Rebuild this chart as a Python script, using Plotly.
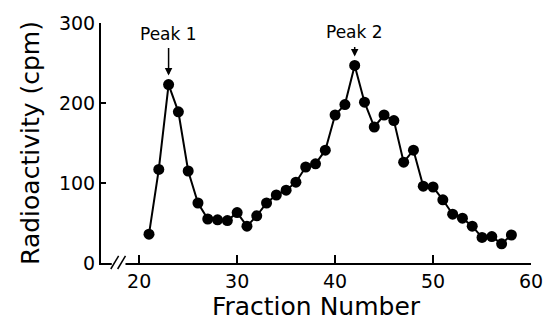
import plotly.graph_objects as go

fractions = list(range(21, 59))
cpm = [36, 117, 223, 189, 115, 75, 55, 54, 53, 63, 46, 59, 75, 85, 91, 101, 120, 124,
       141, 185, 198, 247, 201, 170, 185, 178, 126, 141, 96, 95, 79, 61, 56, 46, 32, 33, 24, 35]
x_ticks = [20, 30, 40, 50, 60]
y_ticks = [0, 100, 200, 300]
peaks = [(23, 223, "Peak 1", 28), (42, 247, "Peak 2", 10)]

FONT = "DejaVu Sans"
fig = go.Figure()
fig.add_trace(go.Scatter(
    x=fractions, y=cpm, mode="lines+markers",
    line=dict(color="black", width=2),
    marker=dict(color="black", size=11),
    cliponaxis=False, showlegend=False))

for px, py, label, alen in peaks:
    fig.add_annotation(x=px, y=py, text="", showarrow=True, arrowhead=2, arrowsize=1,
                       arrowwidth=1.5, arrowcolor="black", ax=0, ay=-alen - 10,
                       standoff=9)
    fig.add_annotation(x=px, y=py, text=label, showarrow=False, yshift=alen + 23,
                       font=dict(family=FONT, size=17, color="black"))

# axis break on x axis
fig.add_shape(type="rect", xref="x", yref="paper", x0=17.2, x1=18.6, y0=-0.01, y1=0.01,
              fillcolor="white", line=dict(width=0), layer="above")
for x0 in [17.1, 17.8]:
    fig.add_shape(type="line", xref="x", yref="paper", x0=x0, x1=x0 + 0.8, y0=-0.025, y1=0.03,
                  line=dict(color="black", width=1.5), layer="above")

fig.update_layout(
    width=555, height=325,
    margin=dict(l=101, r=13, t=20, b=61),
    plot_bgcolor="white", paper_bgcolor="white",
    font=dict(family=FONT, color="black"),
    xaxis=dict(range=[16.1, 60], tickvals=x_ticks, ticks="inside", ticklen=8, tickwidth=1.5,
               tickcolor="black", showline=True, linecolor="black", linewidth=2,
               showgrid=False, zeroline=False, tickfont=dict(size=19),
               title=dict(text="Fraction Number", font=dict(size=25), standoff=4)),
    yaxis=dict(range=[0, 300], tickvals=y_ticks, ticks="inside", ticklen=5, tickwidth=1.5,
               tickcolor="black", showline=True, linecolor="black", linewidth=2,
               showgrid=False, zeroline=False, tickfont=dict(size=19),
               title=dict(text="Radioactivity (cpm)", font=dict(size=25), standoff=12)),
)
fig.write_html("out.html")
